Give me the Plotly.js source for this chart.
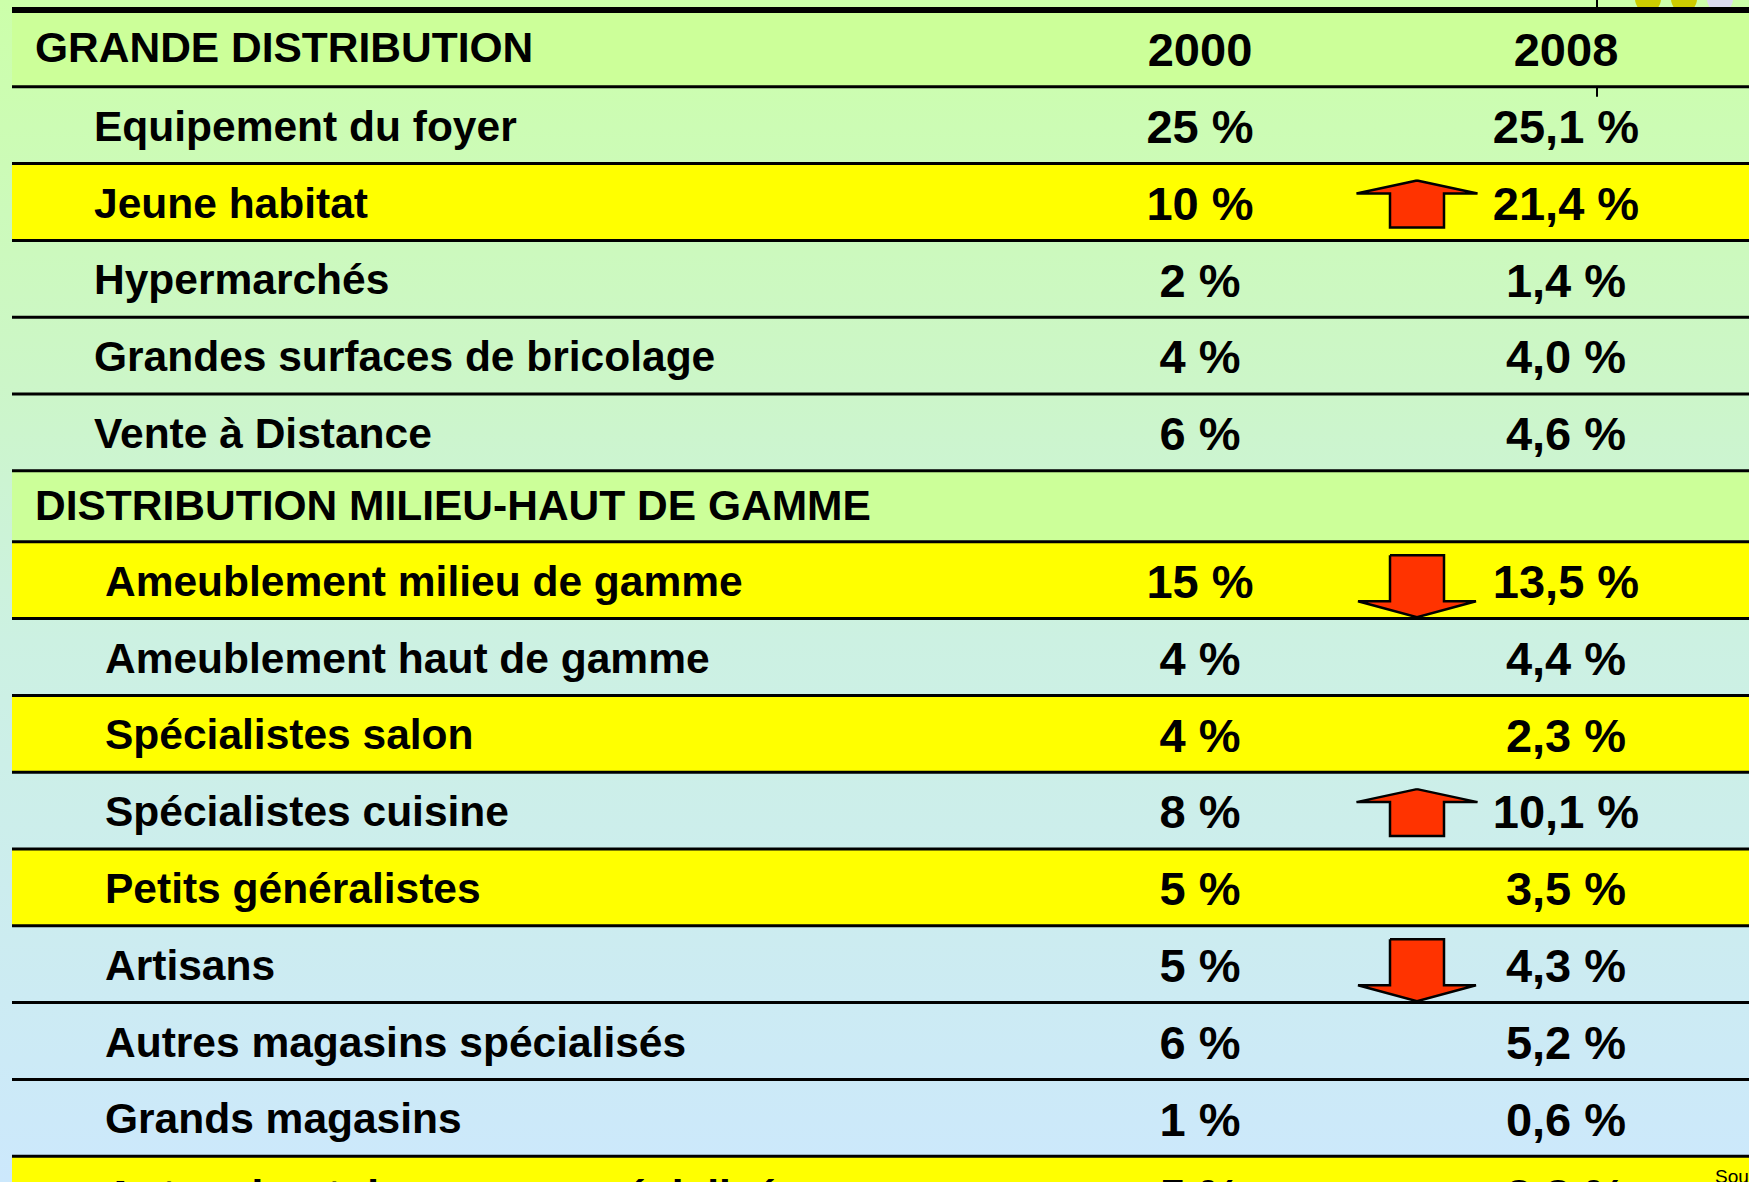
<!DOCTYPE html>
<html>
<head>
<meta charset="utf-8">
<script src="https://cdn.plot.ly/plotly-3.0.1.min.js"></script>
<style>
html, body { margin: 0; padding: 0; overflow: hidden; width: 1749px; height: 1182px; }
#chart {
  width: 1749px; height: 1240px;
  background: linear-gradient(to bottom, #ccffaa 0px, #ccf6c8 380px, #ccf1e2 640px, #cce8fc 1182px, #cce8fc 1240px);
}
</style>
</head>
<body>
<div id="chart"></div>
<script>
// ---------------- DATA ----------------
const labels = [
  'GRANDE DISTRIBUTION',
  'Equipement du foyer',
  'Jeune habitat',
  'Hypermarchés',
  'Grandes surfaces de bricolage',
  'Vente à Distance',
  'DISTRIBUTION MILIEU-HAUT DE GAMME',
  'Ameublement milieu de gamme',
  'Ameublement haut de gamme',
  'Spécialistes salon',
  'Spécialistes cuisine',
  'Petits généralistes',
  'Artisans',
  'Autres magasins spécialisés',
  'Grands magasins',
  'Autres haut de gamme spécialisés'
];
const rowKind = ['section','row','highlight','row','row','row','section','highlight','row','highlight','row','highlight','row','row','row','highlight'];
const years = ['2000', '2008'];
const share2000 = [null, 25, 10, 2, 4, 6, null, 15, 4, 4, 8, 5, 5, 6, 1, 5];
const share2008 = [null, 25.1, 21.4, 1.4, 4.0, 4.6, null, 13.5, 4.4, 2.3, 10.1, 3.5, 4.3, 5.2, 0.6, 3.3];
const trend = ['', '', 'up', '', '', '', '', 'down', '', '', 'up', '', 'down', '', '', ''];
const sourceNote = 'Source : IPEA';

// ---------------- LAYOUT CONSTANTS ----------------
const W = 1749, H = 1240;
const TABLE_LEFT = 12, TABLE_RIGHT = 1760, TABLE_TOP = 10;
const ROW_H = 76.8, SUB_HEADER_H = 71;
const COL_X = [1200, 1566];
const ARROW_X = 1417;
const FONT = 'Liberation Sans, Arial, sans-serif';
const COLORS = { section: '#ccff99', highlight: '#ffff00', row: null };

// row geometry
const tops = [], bottoms = [], sectionOf = [];
let y = TABLE_TOP, sec = -1;
rowKind.forEach((k, i) => {
  let h = ROW_H;
  if (k === 'section') { sec++; if (sec > 0) h = SUB_HEADER_H; }
  tops.push(y); y += h; bottoms.push(y); sectionOf.push(sec);
});
const centers = tops.map((t, i) => (t + bottoms[i]) / 2);

const fmt2000 = v => v == null ? '' : String(v) + ' %';
const fmt2008 = v => v == null ? '' : v.toFixed(1).replace('.', ',') + ' %';

// ---------------- SHAPES ----------------
const shapes = [];
rowKind.forEach((k, i) => {
  if (COLORS[k]) {
    shapes.push({ type: 'rect', xref: 'x', yref: 'y', layer: 'below',
      x0: TABLE_LEFT, x1: TABLE_RIGHT, y0: tops[i], y1: bottoms[i],
      fillcolor: COLORS[k], line: { width: 0 } });
  }
});
// decorative circles top right
[[1648, '#cccc00'], [1684, '#cccc00'], [1720, '#dcdcf0']].forEach(([cx, c]) => {
  shapes.push({ type: 'circle', xref: 'x', yref: 'y', layer: 'below',
    x0: cx - 13, x1: cx + 13, y0: -14, y1: 12, fillcolor: c, line: { width: 0 } });
});
// row separators
bottoms.forEach(b => {
  shapes.push({ type: 'line', xref: 'x', yref: 'y', layer: 'below',
    x0: TABLE_LEFT, x1: TABLE_RIGHT, y0: b, y1: b, line: { color: '#000', width: 3 } });
});
shapes.push({ type: 'line', xref: 'x', yref: 'y', layer: 'below',
  x0: TABLE_LEFT, x1: TABLE_RIGHT, y0: TABLE_TOP, y1: TABLE_TOP, line: { color: '#000', width: 6 } });
// small vertical marks
shapes.push({ type: 'line', xref: 'x', yref: 'y', layer: 'below', x0: 1597, x1: 1597, y0: -5, y1: 10, line: { color: '#000', width: 2 } });
shapes.push({ type: 'line', xref: 'x', yref: 'y', layer: 'below', x0: 1597, x1: 1597, y0: bottoms[0], y1: bottoms[0] + 10, line: { color: '#000', width: 2 } });

// ---------------- ANNOTATIONS (labels) ----------------
const annotations = labels.map((lab, i) => ({
  xref: 'x', yref: 'y',
  x: rowKind[i] === 'section' ? 33 : (sectionOf[i] === 0 ? 92 : 103),
  y: centers[i] + (rowKind[i] === 'section' ? -1 : 1),
  xanchor: 'left', yanchor: 'middle', showarrow: false,
  text: lab,
  font: { family: FONT, size: 42.5, weight: 'bold', color: '#000' }
}));
annotations.push({
  xref: 'x', yref: 'y', x: 1713, y: 1176, xanchor: 'left', yanchor: 'middle', showarrow: false,
  text: sourceNote, font: { family: FONT, size: 19, color: '#000' }
});

// ---------------- TRACES ----------------
const traces = [];
// arrows
trend.forEach((t, i) => {
  if (!t) return;
  const cx = ARROW_X;
  let xs, ys;
  if (t === 'up') {
    const cy = centers[i] + 2, hh = 23.5;
    xs = [cx, cx + 60.5, cx + 27, cx + 27, cx - 27, cx - 27, cx - 60.5, cx];
    ys = [cy - hh, cy - hh + 13, cy - hh + 13, cy + hh, cy + hh, cy - hh + 13, cy - hh + 13, cy - hh];
  } else {
    const cy = centers[i] + 6, hh = 31;
    xs = [cx - 27, cx + 27, cx + 27, cx + 59, cx, cx - 59, cx - 27, cx - 27];
    ys = [cy - hh, cy - hh, cy + hh - 16, cy + hh - 16, cy + hh, cy + hh - 16, cy + hh - 16, cy - hh];
  }
  traces.push({ type: 'scatter', mode: 'lines', x: xs, y: ys, fill: 'toself',
    fillcolor: '#ff3300', line: { color: '#000', width: 2.5 }, hoverinfo: 'skip', showlegend: false });
});
// year headers
traces.push({ type: 'scatter', mode: 'text', x: COL_X, y: [centers[0] + 6, centers[0] + 6], text: years,
  textposition: 'middle center', textfont: { family: FONT, size: 47, weight: 'bold', color: '#000' },
  hoverinfo: 'skip', showlegend: false });
// values
[[share2000, fmt2000, COL_X[0]], [share2008, fmt2008, COL_X[1]]].forEach(([vals, f, cx]) => {
  traces.push({ type: 'scatter', mode: 'text',
    x: vals.map(() => cx), y: centers.map(c => c + 6), text: vals.map(f),
    textposition: 'middle center', textfont: { family: FONT, size: 47, weight: 'bold', color: '#000' },
    hoverinfo: 'skip', showlegend: false });
});

const layout = {
  width: W, height: H,
  margin: { l: 0, r: 0, t: 0, b: 0 },
  paper_bgcolor: 'rgba(0,0,0,0)', plot_bgcolor: 'rgba(0,0,0,0)',
  xaxis: { range: [0, W], visible: false, fixedrange: true },
  yaxis: { range: [H, 0], visible: false, fixedrange: true },
  shapes: shapes, annotations: annotations, showlegend: false
};
Plotly.newPlot('chart', traces, layout, { displayModeBar: false, staticPlot: true });
</script>
</body>
</html>
